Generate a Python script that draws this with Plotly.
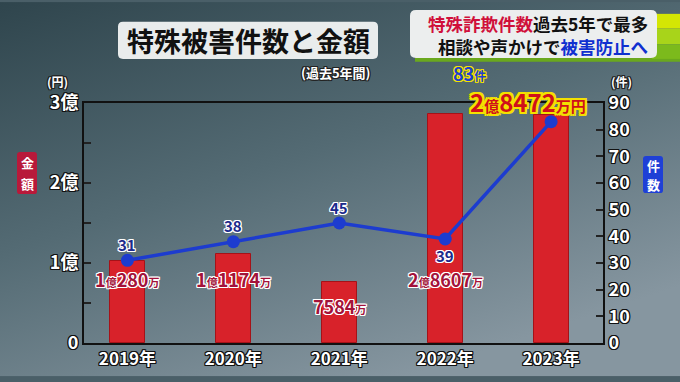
import base64
import plotly.graph_objects as go

# ---------------- data ----------------
years = ["2019年", "2020年", "2021年", "2022年", "2023年"]
amounts = [102800000, 111740000, 75840000, 286070000, 284720000]   # 円
amount_big = ["1", "1", "", "2", "2"]
amount_small = ["280", "1174", "7584", "8607", "8472"]
counts = [31, 38, 45, 39, 83]
left_tickvals = [0, 50000000, 100000000, 150000000, 200000000, 250000000, 300000000]
left_ticktext = ["0", "", "1億", "", "2億", "", "3億"]
right_tickvals = [0, 10, 20, 30, 40, 50, 60, 70, 80, 90]

W, H = 680, 382
L, R, T, B = 84, 77, 103, 34
PW, PH = W - L - R, H - T - B


def px(x):
    return (x - L) / PW


def py(y):
    return (H - B - y) / PH


def outline(c, w=1):
    s = []
    for dx in (-w, 0, w):
        for dy in (-w, 0, w):
            if dx or dy:
                s.append(f"{dx}px {dy}px 0 {c}")
    return ", ".join(s)


FONT = "Noto Sans CJK JP"

fig = go.Figure()

fig.add_trace(go.Bar(
    x=years, y=amounts, width=0.33,
    marker=dict(color="#d8222a", line=dict(color="#a51218", width=1)),
    yaxis="y", hoverinfo="skip", showlegend=False,
))
fig.add_trace(go.Scatter(
    x=years, y=counts, yaxis="y2", mode="lines+markers",
    line=dict(color="#1d3ccf", width=3.5),
    marker=dict(color="#1d3ccf", size=13),
    hoverinfo="skip", showlegend=False,
))

# background gradient image
svg = ('<svg xmlns="http://www.w3.org/2000/svg" width="680" height="382">'
       '<defs><linearGradient id="g" x1="0" y1="0" x2="0.6" y2="1">'
       '<stop offset="0" stop-color="#2f454d"/>'
       '<stop offset="0.5" stop-color="#546b74"/>'
       '<stop offset="1" stop-color="#8696a0"/>'
       '</linearGradient></defs><rect width="680" height="382" fill="url(#g)"/></svg>')
src = "data:image/svg+xml;base64," + base64.b64encode(svg.encode()).decode()

shapes = []


def rrect(x0, y0, x1, y1, r, fill):
    path = (f"M {px(x0 + r)},{py(y0)} L {px(x1 - r)},{py(y0)} "
            f"Q {px(x1)},{py(y0)} {px(x1)},{py(y0 + r)} "
            f"L {px(x1)},{py(y1 - r)} Q {px(x1)},{py(y1)} {px(x1 - r)},{py(y1)} "
            f"L {px(x0 + r)},{py(y1)} Q {px(x0)},{py(y1)} {px(x0)},{py(y1 - r)} "
            f"L {px(x0)},{py(y0 + r)} Q {px(x0)},{py(y0)} {px(x0 + r)},{py(y0)} Z")
    shapes.append(dict(type="path", xref="paper", yref="paper", path=path,
                       fillcolor=fill, line=dict(width=0), layer="above"))


def rect(x0, y0, x1, y1, fill):
    shapes.append(dict(type="rect", xref="paper", yref="paper",
                       x0=px(x0), x1=px(x1), y0=py(y1), y1=py(y0),
                       fillcolor=fill, line=dict(width=0), layer="above"))


# top right green strips
rect(415, 55, 680, 61, "#6aa81e")
rect(652, 12, 680, 27, "#d4e604")
rect(652, 27, 680, 43, "#a8d41a")
rect(652, 43, 680, 58, "#7cba1c")
# boxes
rrect(118, 20, 378, 58, 5, "#e9ecec")
rrect(410, 8, 657, 57, 6, "#eceeee")
rrect(17, 153, 37, 196, 3, "#b8193a")
rrect(643, 157, 663, 195, 3, "#1f40d6")

ann = []


def A(x, y, text, size, color, shadow=None, xanchor="center", xref="paper", yref="paper", **kw):
    ann.append(dict(x=x, y=y, xref=xref, yref=yref, text=text, showarrow=False,
                    xanchor=xanchor, yanchor="middle",
                    font=dict(family=FONT, size=size, color=color, weight="bold",
                              shadow=shadow or "none"), **kw))


A(px(248), py(39), "特殊被害件数と金額", 27, "#111")
A(px(650), py(22), '<span style="color:#d0103a">特殊詐欺件数</span>過去5年で最多', 17.5, "#111", xanchor="right")
A(px(650), py(45), '相談や声かけで<span style="color:#1030d0">被害防止へ</span>', 17.5, "#111", xanchor="right")
A(px(336), py(72), "(過去5年間)", 13, "#fff", outline("#222"))
A(px(57), py(81), "(円)", 12, "#fff", outline("#222"))
A(px(622), py(81), "(件)", 12, "#fff", outline("#222"))
A(px(27), py(164), "金", 13, "#fff", borderpad=0)
A(px(27), py(185), "額", 13, "#fff", borderpad=0)
A(px(653), py(167), "件", 13, "#fff", borderpad=0)
A(px(653), py(186), "数", 13, "#fff", borderpad=0)

# amount labels
lab_y = [283, 283, 310, 283]
for i in range(4):
    big = amount_big[i]
    t = ""
    if big:
        t += f'{big}<span style="font-size:11px">億</span>'
    t += f'{amount_small[i]}<span style="font-size:11px">万</span>'
    A(years[i], py(lab_y[i]), t, 18, "#a3123a", outline("#fff", 1), xref="x")

# highlighted 2023 labels
A(px(469), py(72), f'{counts[4]}<span style="font-size:12px">件</span>', 18, "#1f3fd0", outline("#f2e200", 1))
A(px(528), py(101), f'{amount_big[4]}<span style="font-size:15px">億</span>{amount_small[4]}<span style="font-size:15px">万円</span>',
  24, "#d0101a", outline("#f4e100", 2))

# count labels
for i in range(4):
    shift = -16 if i == 3 else 16
    ann.append(dict(x=years[i], y=counts[i], xref="x", yref="y2", text=str(counts[i]),
                    showarrow=False, yshift=shift,
                    font=dict(family=FONT, size=15, color="#1c2a8c", weight="bold",
                              shadow=outline("#fff", 1))))

tick_shadow = outline("#111", 1)

fig.update_layout(
    width=W, height=H, margin=dict(l=L, r=R, t=T, b=B, pad=0),
    paper_bgcolor="#4a5f68", plot_bgcolor="#eceeee",
    images=[dict(source=src, xref="paper", yref="paper", x=px(0), y=py(0),
                 sizex=px(W) - px(0), sizey=py(0) - py(H), sizing="stretch",
                 xanchor="left", yanchor="top", layer="below")],
    shapes=shapes, annotations=ann,
    xaxis=dict(type="category", range=[-0.41, 4.49], showline=True, linecolor="#111",
               linewidth=2, mirror=True, ticks="", showgrid=False,
               tickfont=dict(family=FONT, size=17, color="#fff", weight="bold", shadow=tick_shadow)),
    yaxis=dict(range=[0, 300000000], tickvals=left_tickvals, ticktext=left_ticktext,
               ticks="inside", ticklen=7, tickcolor="#222", tickwidth=1.5,
               showline=True, linecolor="#111", linewidth=2, showgrid=False, zeroline=False,
               tickfont=dict(family=FONT, size=18, color="#fff", weight="bold", shadow=tick_shadow)),
    yaxis2=dict(range=[0, 90], tickvals=right_tickvals, overlaying="y", side="right",
                ticks="inside", ticklen=7, tickcolor="#222", tickwidth=1.5,
                showline=True, linecolor="#111", linewidth=2, showgrid=False, zeroline=False,
                tickfont=dict(family=FONT, size=18, color="#fff", weight="bold", shadow=tick_shadow)),
    bargap=0,
)

fig.write_html("out.html")
